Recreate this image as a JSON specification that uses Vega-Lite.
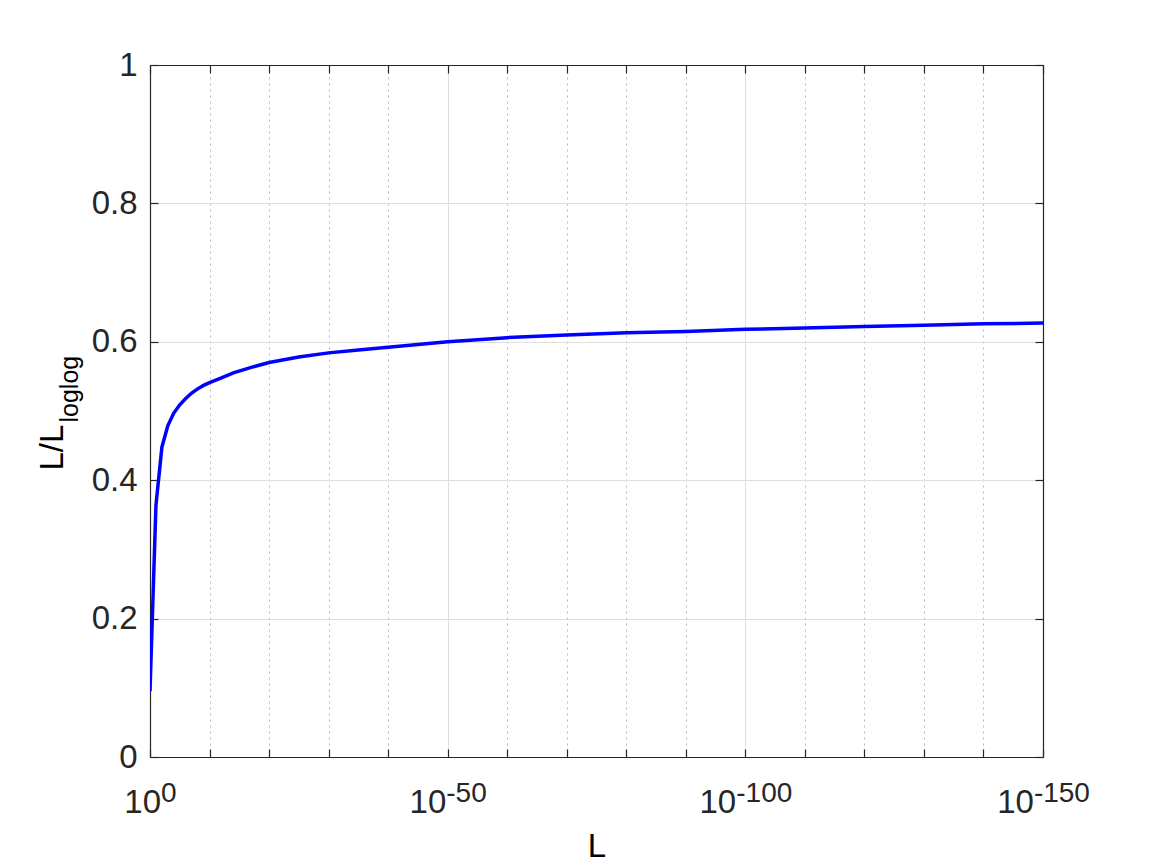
{
  "$schema": "https://vega.github.io/schema/vega-lite/v6.json",
  "width": 893,
  "height": 692,
  "autosize": {"type": "none"},
  "padding": {"left": 150, "top": 65, "right": 109, "bottom": 107},
  "background": "white",
  "config": {
    "view": {"stroke": null},
    "font": "Liberation Sans",
    "axis": {
      "labelFont": "Liberation Sans",
      "titleFont": "Liberation Sans",
      "labelColor": "#262626",
      "titleColor": "#000000",
      "domainColor": "#262626",
      "tickColor": "#262626",
      "domainWidth": 1.2,
      "tickWidth": 1.2
    }
  },
  "data": {
    "values": [
      {"t": 0, "r": 0.095},
      {"t": 1, "r": 0.364},
      {"t": 2, "r": 0.448},
      {"t": 3, "r": 0.479},
      {"t": 4, "r": 0.497},
      {"t": 5, "r": 0.509},
      {"t": 6, "r": 0.518},
      {"t": 7, "r": 0.526},
      {"t": 8, "r": 0.532},
      {"t": 9, "r": 0.537},
      {"t": 10, "r": 0.541},
      {"t": 12, "r": 0.548},
      {"t": 14, "r": 0.555},
      {"t": 17, "r": 0.563},
      {"t": 20, "r": 0.570},
      {"t": 25, "r": 0.578},
      {"t": 30, "r": 0.584},
      {"t": 35, "r": 0.588},
      {"t": 40, "r": 0.592},
      {"t": 50, "r": 0.600},
      {"t": 60, "r": 0.606},
      {"t": 70, "r": 0.610},
      {"t": 80, "r": 0.613},
      {"t": 90, "r": 0.615},
      {"t": 100, "r": 0.618},
      {"t": 110, "r": 0.620},
      {"t": 120, "r": 0.622},
      {"t": 130, "r": 0.624},
      {"t": 140, "r": 0.626},
      {"t": 150, "r": 0.627}
    ]
  },
  "layer": [
    {
      "mark": {"type": "line", "opacity": 0},
      "encoding": {
        "x": {
          "field": "t", "type": "quantitative",
          "scale": {"domain": [0, 150], "nice": false, "zero": false},
          "axis": {
            "orient": "top", "labels": false, "title": null, "grid": false,
            "values": [0, 10, 20, 30, 40, 50, 60, 70, 80, 90, 100, 110, 120, 130, 140, 150],
            "tickSize": -8, "domain": true
          }
        },
        "y": {
          "field": "r", "type": "quantitative",
          "scale": {"domain": [0, 1], "nice": false},
          "axis": {
            "orient": "right", "labels": false, "title": null, "grid": false,
            "values": [0, 0.2, 0.4, 0.6, 0.8, 1],
            "tickSize": -8, "domain": true
          }
        }
      }
    },
    {
      "mark": {"type": "line", "color": "#0000ff", "strokeWidth": 3.5, "clip": true},
      "encoding": {
        "x": {
          "field": "t", "type": "quantitative",
          "scale": {"domain": [0, 150], "nice": false, "zero": false},
          "axis": {
            "orient": "bottom",
            "values": [0, 10, 20, 30, 40, 50, 60, 70, 80, 90, 100, 110, 120, 130, 140, 150],
            "labelExpr": "datum.value % 50 === 0 ? '10' : ''",
            "labelFontSize": 33,
            "labelAlign": "right",
            "labelBaseline": "alphabetic",
            "labelPadding": 63,
            "labelOffset": {"condition": [{"test": "datum.value === 0", "value": 10.5}, {"test": "datum.value === 50", "value": -1.9}], "value": -9.6},
            "labelOverlap": false,
            "labelFlush": false,
            "labelBound": false,
            "tickSize": -8,
            "grid": true,
            "gridColor": {"condition": {"test": "datum.value % 50 === 0", "value": "#dedede"}, "value": "#b8b8b8"},
            "gridDash": {"condition": {"test": "datum.value % 50 === 0", "value": []}, "value": [2, 4]},
            "gridWidth": 1,
            "title": "L",
            "titleFontSize": 33,
            "titleFontWeight": "normal",
            "titleBaseline": "alphabetic",
            "titleAnchor": "middle",
            "titleY": 99
          }
        },
        "y": {
          "field": "r", "type": "quantitative",
          "scale": {"domain": [0, 1], "nice": false},
          "axis": {
            "orient": "left",
            "values": [0, 0.2, 0.4, 0.6, 0.8, 1],
            "format": ".1~f",
            "labelFontSize": 33,
            "labelPadding": 21,
            "tickSize": -8,
            "grid": true,
            "gridColor": "#dedede",
            "gridWidth": 1,
            "title": "L/L",
            "titleFontSize": 33,
            "titleFontWeight": "normal",
            "titleAngle": 270,
            "titleAlign": "left",
            "titleBaseline": "alphabetic",
            "titleX": -88,
            "titleY": 405
          }
        }
      }
    },
    {
      "mark": {"type": "line", "opacity": 0},
      "encoding": {
        "x": {
          "field": "t", "type": "quantitative",
          "scale": {"domain": [0, 150], "nice": false, "zero": false},
          "axis": {
            "orient": "bottom",
            "values": [0, 50, 100, 150],
            "labelExpr": "datum.value === 0 ? '0' : '-' + datum.value",
            "labelFontSize": 28,
            "labelAlign": "left",
            "labelBaseline": "alphabetic",
            "labelPadding": 44,
            "labelOffset": {"condition": [{"test": "datum.value === 0", "value": 10.5}, {"test": "datum.value === 50", "value": -1.9}], "value": -9.6},
            "labelOverlap": false,
            "labelFlush": false,
            "labelBound": false,
            "ticks": false,
            "domain": false,
            "grid": false,
            "title": null
          }
        },
        "y": {
          "field": "r", "type": "quantitative",
          "scale": {"domain": [0, 1], "nice": false},
          "axis": {
            "orient": "left",
            "labels": false,
            "ticks": false,
            "domain": false,
            "grid": false,
            "title": "loglog",
            "titleFontSize": 25,
            "titleFontWeight": "normal",
            "titleAngle": 270,
            "titleAlign": "left",
            "titleBaseline": "alphabetic",
            "titleX": -73,
            "titleY": 357
          }
        }
      }
    }
  ],
  "resolve": {"axis": {"x": "independent", "y": "independent"}}
}
